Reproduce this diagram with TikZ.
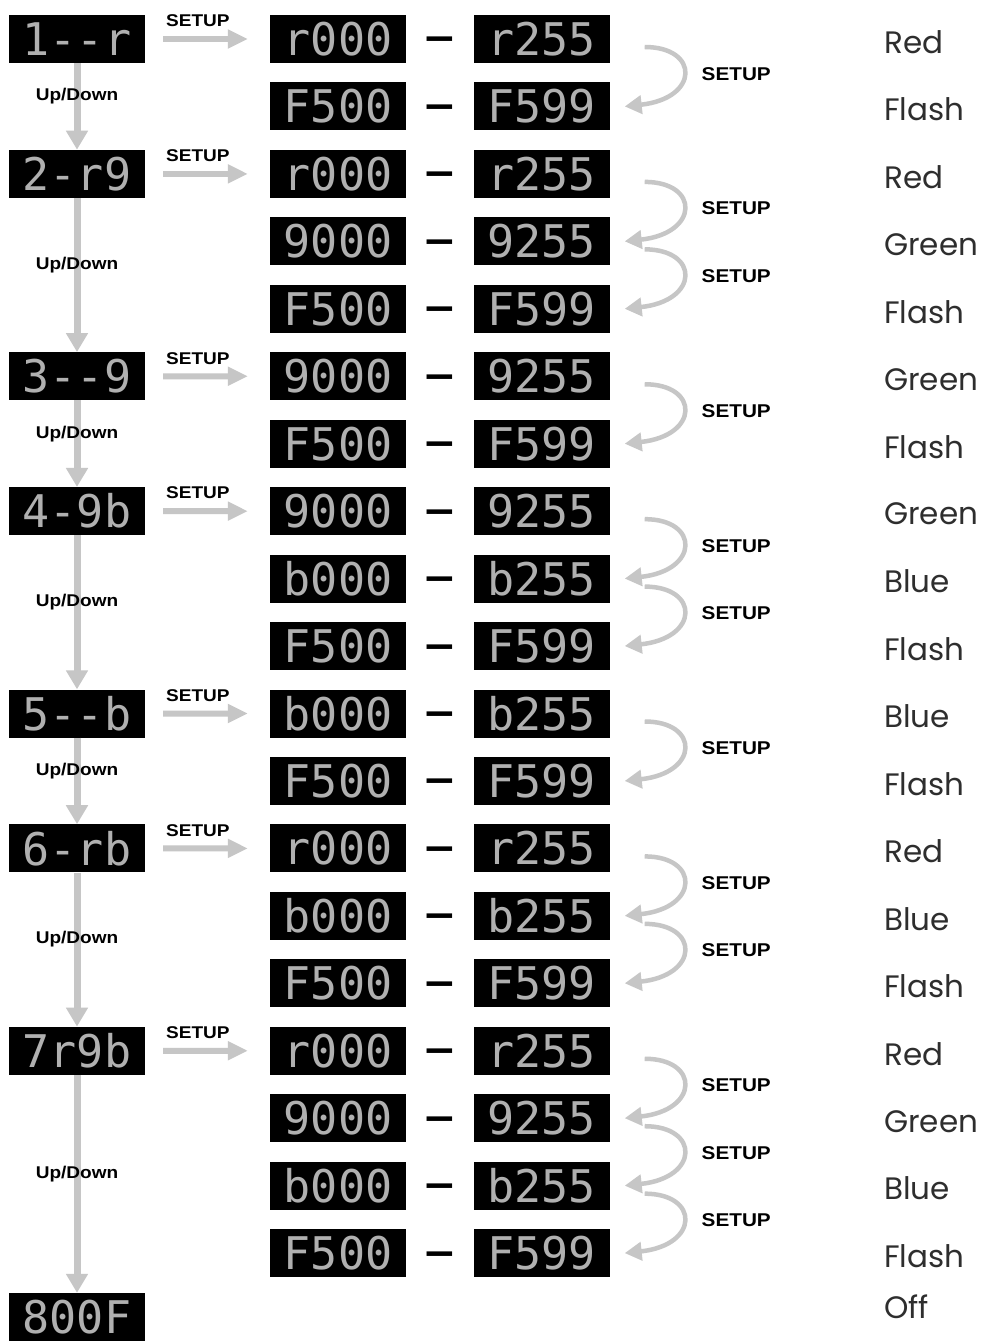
\documentclass[tikz,border=0pt]{standalone}
\usepackage{fontspec}
\setmainfont{Poppins}
\newfontfamily\segfont[Ligatures=TeXOff]{DejaVu Sans Mono}
\newfontfamily\keyfont[FakeStretch=1.12]{Liberation Sans}
\usetikzlibrary{arrows.meta,positioning}
\definecolor{segtext}{HTML}{B0B0B0}
\definecolor{arrowgray}{HTML}{C6C6C6}
\definecolor{labelink}{HTML}{2E2E2E}

\begin{document}
\begin{tikzpicture}[x=1pt, y=-1pt,
 disp/.style={fill=black, text=segtext, minimum width=136pt, minimum height=48pt, inner sep=0pt, font=\segfont\fontsize{45}{45}\selectfont},
 key/.style={font=\keyfont\bfseries\fontsize{17}{17}\selectfont, text=black, inner sep=0pt},
 keyr/.style={key, font=\keyfont\bfseries\fontsize{18.5}{18.5}\selectfont},
 colour/.style={anchor=west, inner sep=0pt, text=labelink, font=\fontsize{31}{31}\selectfont},
 rangedash/.style={anchor=base, inner sep=0pt, font=\keyfont\bfseries\fontsize{46}{46}\selectfont},
 updown/.style={draw=arrowgray, line width=7pt, -{Triangle[length=19pt,width=21pt]}},
 enter/.style={draw=arrowgray, line width=6pt, -{Triangle[length=20pt,width=18pt]}},
 nextval/.style={draw=arrowgray, line width=4.5pt, -{Triangle[length=17pt,width=18pt]}}]

 \fill[white] (0,0) rectangle (994,1343);
 \useasboundingbox (0,0) rectangle (994,1343);

 % --- value ranges ---
 \foreach \lo/\hi/\name [count=\i from 0] in {r000/r255/Red, F500/F599/Flash,
   r000/r255/Red, 9000/9255/Green, F500/F599/Flash,
   9000/9255/Green, F500/F599/Flash,
   9000/9255/Green, b000/b255/Blue, F500/F599/Flash,
   b000/b255/Blue, F500/F599/Flash,
   r000/r255/Red, b000/b255/Blue, F500/F599/Flash,
   r000/r255/Red, 9000/9255/Green, b000/b255/Blue, F500/F599/Flash} {
  \pgfmathsetmacro\yy{39+67.45*\i}
  \node[disp] (lo\i) at (338,\yy) {\lo};
  \node[disp] (hi\i) at (541.5,\yy) {\hi};
  \node[rangedash] (dash\i) at (440,\yy+13) {–};
  \node[colour] (col\i) at (884,\yy+3) {\name};
 }
 \node[colour] (off) at (884,1307) {Off};

 % --- modes ---
 \node[disp] (m1) at (77,39) {1--r};
 \node[disp] (m2) at (77,173.9) {2-r9};
 \node[disp] (m3) at (77,376.25) {3--9};
 \node[disp] (m4) at (77,511.15) {4-9b};
 \node[disp] (m5) at (77,713.5) {5--b};
 \node[disp] (m6) at (77,848.4) {6-rb};
 \node[disp] (m7) at (77,1050.75) {7r9b};
 \node[disp] (m8) at (77,1317) {800F};

 \foreach \a/\b in {m1/m2, m2/m3, m3/m4, m4/m5, m5/m6, m6/m7, m7/m8}
  \draw[updown] (\a) -- node[key, yshift=10pt]{Up/Down} (\b);

 \foreach \m/\r in {m1/0, m2/2, m3/5, m4/7, m5/10, m6/12, m7/15}
  \draw[enter] ([xshift=18pt]\m.east) -- node[key, pos=0, anchor=south west, yshift=9pt]{SETUP} ([xshift=-22pt]lo\r.west);

 % --- SETUP steps through the ranges ---
 \foreach \p/\q in {0/1, 2/3, 3/4, 5/6, 7/8, 8/9, 10/11, 12/13, 13/14, 15/16, 16/17, 17/18}
  \draw[nextval] ([xshift=35pt,yshift=-8pt]hi\p.east) .. controls +(55,0) and +(75,-8) .. node[keyr, anchor=west, xshift=16pt]{SETUP} ([xshift=15pt]hi\q.east);
\end{tikzpicture}
\end{document}
